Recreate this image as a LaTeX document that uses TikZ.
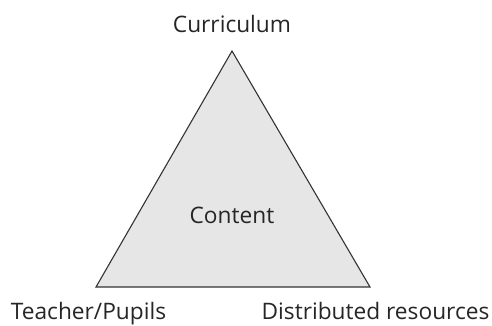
\documentclass[tikz,border=0pt]{standalone}
\usepackage{fontspec}
\setmainfont{Open Sans}
\definecolor{areagray}{HTML}{E6E6E6}
\definecolor{edgegray}{HTML}{333333}
\begin{document}
\begin{tikzpicture}[x=1pt,y=-1pt,
  label/.style={anchor=base,inner sep=0pt,font=\fontsize{22.7}{27}\selectfont,text=black!85},
  side/.style={draw=edgegray,line width=1.1pt,fill=areagray,line join=miter}]
\useasboundingbox (0,0) rectangle (492,325);
\coordinate (top) at (232,51);
\coordinate (left) at (96,287);
\coordinate (right) at (370,287);
\filldraw [side] (top) -- (left) -- (right) -- cycle;
\node [label] (curr) at (232,32) {Curriculum};
\node [label] (cont) at (232,223) {Content};
\node [label] (teach) at (88.5,319.5) {Teacher/Pupils};
\node [label] (res) at (375.5,319.5) {Distributed resources};
\end{tikzpicture}
\end{document}
